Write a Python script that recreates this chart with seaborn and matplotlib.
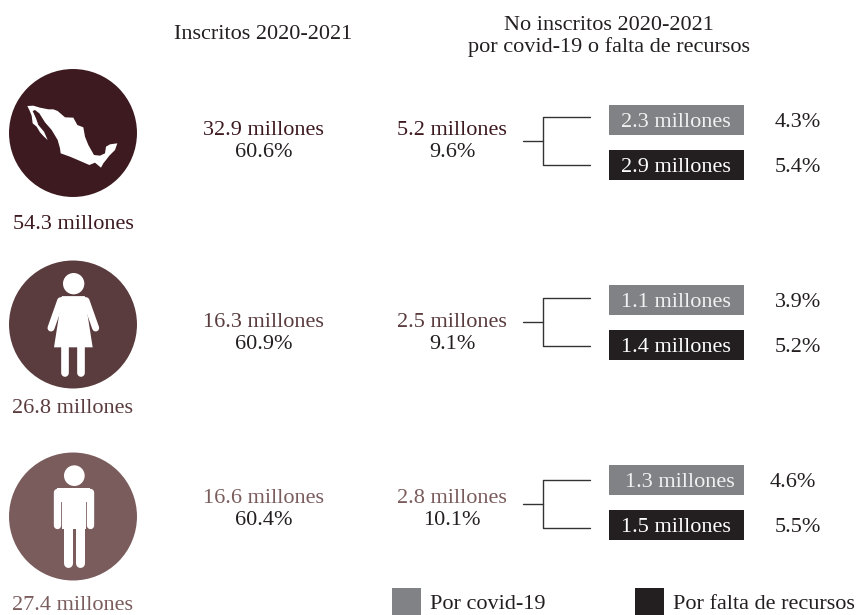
import matplotlib
matplotlib.use("Agg")
import matplotlib.pyplot as plt
from matplotlib.patches import Circle, Polygon, Rectangle
import pandas as pd
import seaborn as sns

# Population groups
groups = ["Total", "Mujeres", "Hombres"]
population = ["54.3 millones", "26.8 millones", "27.4 millones"]
enrolled = ["32.9 millones", "16.3 millones", "16.6 millones"]
enrolled_pct = ["60.6%", "60.9%", "60.4%"]
not_enrolled = ["5.2 millones", "2.5 millones", "2.8 millones"]
not_enrolled_pct = ["9.6%", "9.1%", "10.1%"]
covid = ["2.3 millones", "1.1 millones", "1.3 millones"]
covid_pct = ["4.3%", "3.9%", "4.6%"]
funds = ["2.9 millones", "1.4 millones", "1.5 millones"]
funds_pct = ["5.4%", "5.2%", "5.5%"]
legend_labels = ["Por covid-19", "Por falta de recursos"]

# Colours
group_colors = ["#3d1a20", "#5a3c3e", "#7a5c5c"]
GREY = "#808285"
BLACK = "#231f20"
LINE = "#333333"

# Layout, in pixels of the final image
W, H = 859, 615
circle_y = [133, 324.5, 516.5]
group_label_y = [229, 413, 610]
text_y = [135, 327, 503]
covid_y = [120, 300, 480]
funds_y = [165, 345, 525]
stem_y = [141, 322, 504]
covid_label_x = [675.5, 675.5, 680]
covid_pct_x = [798, 798, 793]
FS = 16

sns.set_theme(style="white", rc={"axes.facecolor": "white", "figure.facecolor": "white"})
plt.rcParams["font.family"] = ["Liberation Serif", "DejaVu Serif"]

fig = plt.figure(figsize=(W / 100, H / 100), dpi=100)
ax = fig.add_axes([0, 0, 1, 1])


def label(x, y, s, color=BLACK, size=FS, ha="center"):
    ax.text(x, y, s, color=color, fontsize=size, ha=ha, va="baseline", zorder=6)


# Round badges behind the icons
badges = pd.DataFrame({"x": [73, 73, 73], "y": circle_y, "group": groups})
sns.scatterplot(data=badges, x="x", y="y", hue="group", hue_order=groups,
                palette=group_colors, s=8490, linewidth=0, legend=False, ax=ax, zorder=2)

# Value boxes for the two reasons
boxes = pd.DataFrame({
    "y": covid_y + funds_y,
    "w": [135] * 6,
    "reason": [legend_labels[0]] * 3 + [legend_labels[1]] * 3,
})
sns.barplot(data=boxes, x="w", y="y", hue="reason", hue_order=legend_labels,
            palette=[GREY, BLACK], orient="y", native_scale=True, dodge=False,
            width=30 / 45, left=609, saturation=1, linewidth=0, edgecolor="none",
            legend=False, ax=ax, zorder=3)

ax.set_xlim(0, W)
ax.set_ylim(H, 0)
ax.axis("off")


def white_poly(points, ox, oy):
    pts = [(ox + px / 3, oy + py / 3) for px, py in points]
    ax.add_patch(Polygon(pts, closed=True, facecolor="white", edgecolor="none", zorder=4))


def limb(x0, y0, x1, y1, ox, oy, width):
    ax.plot([ox + x0 / 3, ox + x1 / 3], [oy + y0 / 3, oy + y1 / 3], color="white",
            lw=width / 3 * 0.72, solid_capstyle="round", zorder=4)


# Outline of Mexico
mexico = [(22, 33), (40, 32), (60, 38), (85, 43), (100, 43), (113, 48), (135, 67), (160, 68),
          (172, 90), (190, 97), (195, 125), (205, 150), (222, 180), (240, 182), (255, 175),
          (258, 155), (270, 148), (292, 145), (285, 165), (268, 182), (258, 195), (250, 205),
          (243, 218), (225, 203), (208, 210), (185, 200), (150, 185), (122, 175), (120, 160),
          (113, 135), (95, 105), (75, 82), (58, 55), (45, 45), (38, 48), (48, 70), (55, 90),
          (72, 110), (83, 135), (72, 125), (60, 112), (50, 95), (38, 85), (35, 62), (28, 45)]
white_poly(mexico, 20, 95)

# Woman
ox, oy = 40, 268
ax.add_patch(Circle((ox + 101 / 3, oy + 47 / 3), 32 / 3, facecolor="white", edgecolor="none", zorder=4))
white_poly([(66, 85), (134, 85), (158, 238), (42, 238)], ox, oy)
white_poly([(66, 85), (134, 85), (142, 95), (128, 130), (72, 130), (58, 95)], ox, oy)
limb(62, 98, 33, 180, ox, oy, 21)
limb(138, 98, 167, 180, ox, oy, 21)
limb(76, 236, 76, 314, ox, oy, 23)
limb(124, 236, 124, 314, ox, oy, 23)

# Man
ox, oy = 40, 460
ax.add_patch(Circle((ox + 103 / 3, oy + 47 / 3), 31 / 3, facecolor="white", edgecolor="none", zorder=4))
white_poly([(51, 83), (151, 83), (151, 125), (51, 125)], ox, oy)
white_poly([(66, 100), (137, 100), (137, 208), (66, 208)], ox, oy)
limb(51, 95, 51, 195, ox, oy, 22)
limb(151, 95, 151, 195, ox, oy, 22)
limb(84, 200, 84, 310, ox, oy, 27)
limb(119, 200, 119, 310, ox, oy, 27)

# Column headings
label(263, 39, "Inscritos 2020-2021")
label(609, 30, "No inscritos 2020-2021")
label(609, 52, "por covid-19 o falta de recursos")

for i in range(3):
    color = group_colors[i]
    label(73, group_label_y[i], population[i], color)
    label(263.5, text_y[i], enrolled[i], color)
    label(263.5, text_y[i] + 22, enrolled_pct[i])
    label(452, text_y[i], not_enrolled[i], color)
    label(452, text_y[i] + 22, not_enrolled_pct[i])

    label(covid_label_x[i], covid_y[i] + 7, covid[i], "#f1f1f2")
    label(675.5, funds_y[i] + 7, funds[i], "white")
    label(covid_pct_x[i], covid_y[i] + 7, covid_pct[i])
    label(798, funds_y[i] + 7, funds_pct[i])

    # Bracket joining the total to its two reasons
    y = stem_y[i]
    ax.plot([522.5, 543], [y, y], color=LINE, lw=1, zorder=2)
    ax.plot([590, 543, 543, 590], [y - 24, y - 24, y + 24, y + 24], color=LINE, lw=1, zorder=2)

# Key
for x0, color, text in zip([392, 635], [GREY, BLACK], legend_labels):
    ax.add_patch(Rectangle((x0, 588), 29, 27, facecolor=color, edgecolor="none", zorder=3))
    label(x0 + 38, 609, text, ha="left")

fig.savefig("out.png", dpi=100)
